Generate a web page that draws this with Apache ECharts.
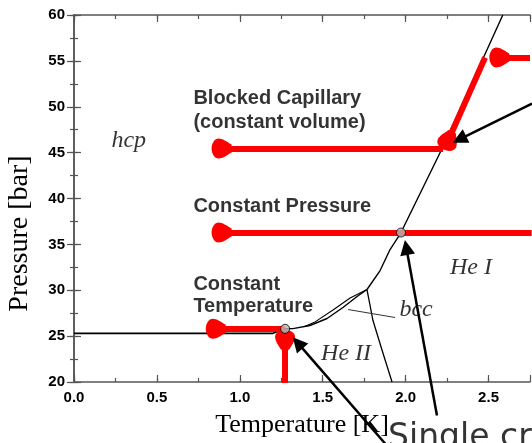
<!DOCTYPE html>
<html><head><meta charset="utf-8">
<script src="https://cdn.jsdelivr.net/npm/echarts@6/dist/echarts.min.js"></script>
<style>html,body{margin:0;padding:0;background:#fff}#c{width:532px;height:443px}</style>
</head><body><div id="c"></div>
<script>
// ---- axes ----
const tempRange = [0, 2.75];
const pressRange = [20, 60];
const xTickValues = [0, 0.5, 1.0, 1.5, 2.0, 2.5];
const xTickLabels = ['0.0', '0.5', '1.0', '1.5', '2.0', '2.5'];
const yTickValues = [20, 25, 30, 35, 40, 45, 50, 55, 60];
const yTickLabels = ['20', '25', '30', '35', '40', '45', '50', '55', '60'];
const xAxisName = 'Temperature [K]';
const yAxisName = 'Pressure [bar]';

// ---- phase boundaries [T (K), P (bar)] ----
const hcpBoundary = [[0, 25.3], [1.2, 25.3], [1.273, 25.8]];
const bccLower = [[1.273, 25.8], [1.321, 25.82], [1.423, 26.16], [1.526, 26.92], [1.622, 28.12], [1.707, 29.32], [1.767, 30.08]];
const bccUpper = [[1.39, 26.05], [1.454, 26.55], [1.562, 27.85], [1.665, 29.15], [1.767, 30.08]];
const meltingCurve = [[1.767, 30.08], [1.846, 32.15], [1.906, 34.44], [1.972, 36.29], [2.22, 45.45], [2.586, 60]];
const lambdaLine = [[1.767, 30.08], [1.803, 26.7], [1.864, 23.11], [1.918, 20]];
const bccLeader = [[1.653, 27.9], [1.936, 27.03]];
const crossingPoints = [[1.273, 25.8], [1.972, 36.29]];

// ---- red process arrows (from, to) ----
const blockedCapillaryPath = [
  [[2.75, 55.37], [2.565, 55.37]],
  [[2.479, 55.37], [2.256, 46.3]],
  [[2.226, 45.45], [0.89, 45.45]]
];
const constantPressurePath = [[[2.76, 36.29], [0.89, 36.29]]];
const constantTemperaturePath = [
  [[1.273, 25.8], [0.855, 25.8]],
  [[1.273, 19.9], [1.273, 24.6]]
];

// ---- black pointer arrows (from, to) ----
const pointerArrows = [
  [[2.762, 50.35], [2.324, 46.44]],
  [[2.189, 16.35], [2.004, 34.67]],
  [[1.876, 13.3], [1.349, 24.27]]
];

// ---- texts ----
const regionNames = ['hcp', 'He I', 'bcc', 'He II'];
const regionAnchors = [[0.33, 46.3], [2.394, 32.48], [2.063, 27.9], [1.641, 23.1]];
const processNames = ['Blocked Capillary', '(constant volume)', 'Constant Pressure', 'Constant', 'Temperature'];
const processAnchors = [[0.72, 50.9], [0.72, 48.3], [0.72, 39.1], [0.72, 30.6], [0.72, 28.2]];
const calloutText = ['Single crystal'];
const calloutAnchor = [[1.894, 15.6]];

const frameColor = '#555';
function fmt(values, labels) {
  return function (v) {
    for (let i = 0; i < values.length; i++) if (Math.abs(v - values[i]) < 1e-6) return labels[i];
    return '';
  };
}
const tickFont = { fontFamily: 'Liberation Sans', fontWeight: 'bold', fontSize: 15, color: '#000' };
function xAx(grid, pos, interval, len, labels) {
  return {
    type: 'value', gridIndex: grid, position: pos, min: tempRange[0], max: tempRange[1], interval: interval,
    axisLine: { show: grid === 0, lineStyle: { color: frameColor, width: 1.5 } },
    axisTick: { show: true, inside: true, length: len, lineStyle: { color: frameColor, width: 1.2 } },
    splitLine: { show: false },
    axisLabel: labels ? Object.assign({ show: true, margin: 8, formatter: fmt(xTickValues, xTickLabels), showMaxLabel: false }, tickFont) : { show: false },
    name: labels ? xAxisName : '', nameLocation: 'middle', nameGap: 30,
    nameTextStyle: { fontFamily: 'Liberation Serif', fontSize: 26, color: '#000' }
  };
}
function yAx(grid, pos, interval, len, labels) {
  return {
    type: 'value', gridIndex: grid, position: pos, min: pressRange[0], max: pressRange[1], interval: interval,
    axisLine: { show: grid === 0, lineStyle: { color: frameColor, width: 1.5 } },
    axisTick: { show: true, inside: true, length: len, lineStyle: { color: frameColor, width: 1.2 } },
    splitLine: { show: false },
    axisLabel: labels ? Object.assign({ show: true, margin: 9, formatter: fmt(yTickValues, yTickLabels) }, tickFont) : { show: false },
    name: labels ? yAxisName : '', nameLocation: 'middle', nameGap: 40,
    nameTextStyle: { fontFamily: 'Liberation Serif', fontSize: 28, color: '#000', padding: [0, 70, 0, 0] }
  };
}
const gridBox = { left: 74, right: 2, top: 15, bottom: 61, containLabel: false, outerBoundsMode: 'none' };

function polyline(data, width, color, z) {
  return { type: 'line', xAxisIndex: 0, yAxisIndex: 0, data: data, showSymbol: false, symbol: 'none',
    lineStyle: { color: color || '#000', width: width }, z: z || 2, silent: true };
}
function arrowSeries(paths, color, width, symbol, size, z) {
  return { type: 'lines', coordinateSystem: 'cartesian2d', xAxisIndex: 0, yAxisIndex: 0, clip: false,
    data: paths.map(p => ({ coords: p })), symbol: ['none', symbol], symbolSize: size,
    lineStyle: { color: color, width: width, opacity: 1, cap: 'butt' }, itemStyle: { color: color }, z: z, silent: true };
}
function textSeries(texts, anchors, label, z) {
  return { type: 'scatter', xAxisIndex: 0, yAxisIndex: 0, clip: false, symbolSize: 0, z: z, silent: true,
    data: texts.map((t, i) => ({ value: anchors[i], name: t })),
    itemStyle: { color: 'rgba(0,0,0,0)' },
    label: Object.assign({ show: true, formatter: '{b}', position: 'inside', color: '#000' }, label) };
}
const redHead = 'path://M5 0C7.5 0 10 3 10 7C10 11 8.5 15 7 20L3 20C1.5 15 0 11 0 7C0 3 2.5 0 5 0Z';

const option = {
  animation: false,
  backgroundColor: '#fff',
  grid: [gridBox, gridBox],
  xAxis: [xAx(0, 'bottom', 0.25, 4, true), xAx(0, 'top', 0.25, 4, false), xAx(1, 'bottom', 0.5, 7, false), xAx(1, 'top', 0.5, 7, false)],
  yAxis: [yAx(0, 'left', 2.5, 4, true), yAx(0, 'right', 2.5, 4, false), yAx(1, 'left', 5, 7, false), yAx(1, 'right', 5, 7, false)],
  series: [
    polyline(hcpBoundary, 1.6),
    polyline(bccLower, 1.4),
    polyline(bccUpper, 1.1),
    polyline(meltingCurve, 1.4),
    polyline(lambdaLine, 1.3),
    polyline(bccLeader, 1, '#333'),
    arrowSeries(blockedCapillaryPath, '#ff0000', 6, redHead, [11, 20], 5),
    arrowSeries(constantPressurePath, '#ff0000', 6, redHead, [11, 20], 5),
    arrowSeries(constantTemperaturePath, '#ff0000', 6, redHead, [11, 20], 5),
    { type: 'scatter', xAxisIndex: 0, yAxisIndex: 0, data: crossingPoints, symbolSize: 9, z: 6, silent: true,
      itemStyle: { color: '#b9b9b9', borderColor: '#000', borderWidth: 1 } },
    arrowSeries(pointerArrows, '#000', 2.5, 'triangle', [13, 15], 7),
    textSeries(regionNames, regionAnchors, { fontFamily: 'Liberation Serif', fontStyle: 'italic', fontSize: 24, align: 'center', verticalAlign: 'middle' }, 8),
    textSeries(processNames, processAnchors, { fontFamily: 'Liberation Sans', fontWeight: 'bold', fontSize: 20, align: 'left', verticalAlign: 'middle' }, 8),
    textSeries(calloutText, calloutAnchor, { fontFamily: 'DejaVu Sans', fontSize: 33, align: 'left', verticalAlign: 'top' }, 8)
  ]
};
const chart = echarts.init(document.getElementById('c'), null, { renderer: 'canvas' });
chart.setOption(option);
</script>
</body></html>
